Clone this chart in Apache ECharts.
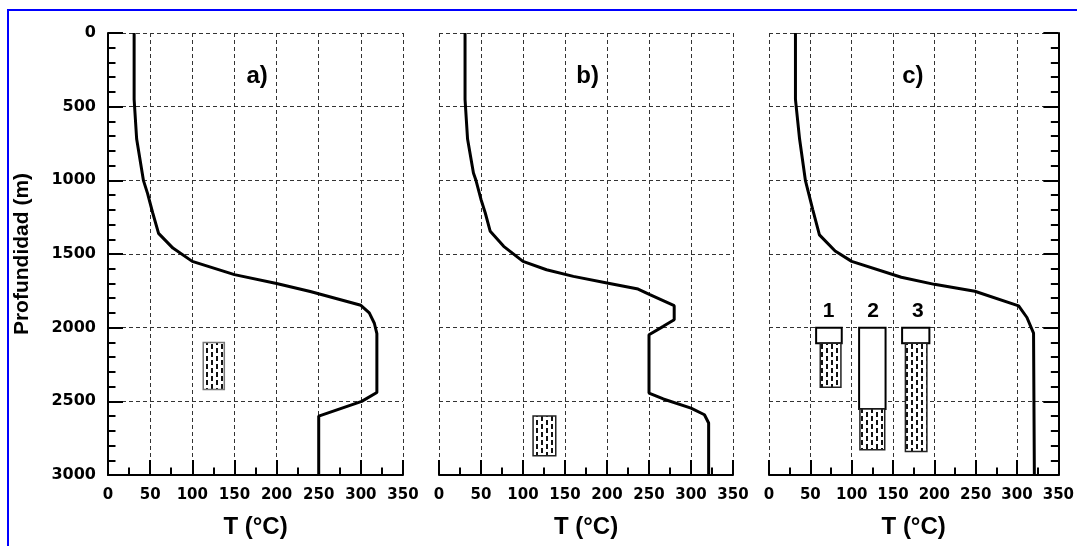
<!DOCTYPE html>
<html>
<head>
<meta charset="utf-8">
<script src="https://cdn.jsdelivr.net/npm/echarts@6/dist/echarts.min.js"></script>
<style>
html, body { margin: 0; padding: 0; background: #fff; }
#chart { width: 1077px; height: 546px; }
</style>
</head>
<body>
<div id="chart"></div>
<script>
// perfiles de temperatura: [T (°C), profundidad (m)]
var perfilA = [[31,0],[31,450],[34,720],[42,1000],[47,1090],[53,1220],[60,1360],[77,1460],[100,1550],[150,1640],[200,1700],[240,1755],[300,1848],[310,1900],[316,1970],[319,2040],[319,2440],[301,2500],[250,2600],[250,3000]];
var perfilB = [[31,0],[31,450],[34,720],[41,950],[44,1000],[50,1130],[55,1220],[61,1346],[77,1448],[100,1550],[128,1607],[160,1652],[200,1697],[237,1738],[251,1776],[280,1851],[280,1946],[267,1991],[250,2048],[250,2444],[267,2484],[300,2546],[316,2591],[321,2647],[321,3000]];
var perfilC = [[32,0],[32,450],[37,720],[44,1000],[53,1200],[61,1370],[80,1480],[100,1550],[160,1658],[200,1706],[249,1753],[302,1852],[312,1931],[320,2037],[321,3000]];

// zonas (T inicio, T fin, prof. inicio, prof. fin)
var zonaA = [[113,138,2100,2420]];
var zonaB = [[112,139,2600,2870]];
var tubosC = [[57,88,2000,2105],[109,141,2000,2552],[161,194,2000,2105]];
var zonasC = [[62,87,2105,2405],[110,140,2552,2828],[165,191,2105,2840]];

var panelLabels = ['a)', 'b)', 'c)'];
var panelLabelPos = [[177,292],[177,292],[174,295]];
var tuboLabels = ['1', '2', '3'];
var tuboLabelPos = [[72,1890],[126,1890],[180,1890]];

var tMin = 0, tMax = 350, tStep = 50;
var dMin = 0, dMax = 3000, dStep = 500;

// patron punteado (rayitas verticales alternadas)
var pat = document.createElement('canvas');
pat.width = 10; pat.height = 8;
var pc = pat.getContext('2d');
pc.fillStyle = '#fff'; pc.fillRect(0, 0, 10, 8);
pc.fillStyle = '#111';
pc.fillRect(1, 0, 2, 5);
pc.fillRect(6, 4, 2, 5);
pc.fillRect(6, -4, 2, 5);
var punteado = { image: pat, repeat: 'repeat' };

var myChart = echarts.init(document.getElementById('chart'));

var grids = [
  { left: 108, top: 33, width: 295, height: 442 },
  { left: 439, top: 33, width: 294, height: 442 },
  { left: 769, top: 33, width: 294, height: 442 }
];

var dashed = { show: true, lineStyle: { color: '#333', width: 1, type: [4, 3] } };

function xAxis(i) {
  return {
    gridIndex: i, type: 'value', position: 'bottom', min: tMin, max: tMax, interval: tStep,
    name: 'T (°C)', nameLocation: 'middle', nameGap: 40,
    nameTextStyle: { fontFamily: 'Liberation Sans', fontWeight: 'bold', fontSize: 24, color: '#000' },
    axisLine: { show: true, onZero: false, lineStyle: { color: '#000', width: 2 } },
    axisTick: { show: true, inside: true, length: 15, lineStyle: { color: '#000', width: 2 } },
    minorTick: { show: true, splitNumber: 2, length: 7.5, lineStyle: { color: '#000', width: 2 } },
    axisLabel: { margin: 13, fontFamily: 'DejaVu Sans', fontWeight: 'bold', fontSize: 15, color: '#000' },
    splitLine: dashed
  };
}

function yAxis(i) {
  var ax = {
    gridIndex: i, type: 'value', min: dMin, max: dMax, interval: dStep, inverse: true,
    axisLine: { show: false, onZero: false },
    axisTick: { show: false },
    axisLabel: { show: false },
    splitLine: dashed
  };
  var solid = {
    axisLine: { show: true, onZero: false, lineStyle: { color: '#000', width: 2 } },
    axisTick: { show: true, inside: true, length: 15, lineStyle: { color: '#000', width: 2 } },
    minorTick: { show: true, splitNumber: 5, length: 7.5, lineStyle: { color: '#000', width: 2 } }
  };
  if (i === 0) {
    Object.assign(ax, solid);
    ax.position = 'left';
    ax.name = 'Profundidad (m)';
    ax.nameLocation = 'middle';
    ax.nameGap = 75;
    ax.nameTextStyle = { fontFamily: 'Liberation Sans', fontWeight: 'bold', fontSize: 21, color: '#000' };
    ax.axisLabel = {
      show: true, margin: 12, fontFamily: 'DejaVu Sans', fontWeight: 'bold', fontSize: 16, color: '#000',
      formatter: function (v) { return String(v); }
    };
  }
  if (i === 2) {
    Object.assign(ax, solid);
    ax.position = 'right';
  }
  return ax;
}

function zonaRender(fill, stroke, lw) {
  return function (params, api) {
    var p0 = api.coord([api.value(0), api.value(2)]);
    var p1 = api.coord([api.value(1), api.value(3)]);
    return {
      type: 'rect',
      shape: { x: p0[0], y: p0[1], width: p1[0] - p0[0], height: p1[1] - p0[1] },
      style: { fill: fill, stroke: stroke, lineWidth: lw }
    };
  };
}

function zonaSeries(i, data, fill, stroke, lw) {
  return {
    type: 'custom', xAxisIndex: i, yAxisIndex: i, data: data,
    renderItem: zonaRender(fill, stroke, lw), z: 3
  };
}

function curva(i, data) {
  return {
    type: 'line', xAxisIndex: i, yAxisIndex: i, data: data,
    symbol: 'none', lineStyle: { color: '#000', width: 3 }, z: 4
  };
}

function textos(i, labels, pos, size) {
  return {
    type: 'scatter', xAxisIndex: i, yAxisIndex: i, symbolSize: 0, z: 5,
    itemStyle: { opacity: 1 },
    data: pos.map(function (p, k) { return { value: p, name: labels[k] }; }),
    label: {
      show: true, position: 'inside', formatter: '{b}',
      fontFamily: 'Liberation Sans', fontWeight: 'bold', fontSize: size, color: '#000'
    }
  };
}

var option = {
  animation: false,
  backgroundColor: '#fff',
  grid: grids,
  xAxis: [xAxis(0), xAxis(1), xAxis(2)],
  yAxis: [yAxis(0), yAxis(1), yAxis(2)],
  graphic: [{
    type: 'polyline', silent: true, z: 10,
    shape: { points: [[8, 546], [8, 10], [1077, 10]] },
    style: { stroke: '#0000ff', lineWidth: 2, fill: null }
  }],
  series: [
    curva(0, perfilA),
    curva(1, perfilB),
    curva(2, perfilC),
    zonaSeries(0, zonaA, punteado, '#777', 1.5),
    zonaSeries(1, zonaB, punteado, '#222', 1.5),
    zonaSeries(2, tubosC, '#fff', '#000', 2),
    zonaSeries(2, zonasC, punteado, '#222', 1.5),
    textos(0, [panelLabels[0]], [panelLabelPos[0]], 24),
    textos(1, [panelLabels[1]], [panelLabelPos[1]], 24),
    textos(2, [panelLabels[2]], [panelLabelPos[2]], 24),
    textos(2, tuboLabels, tuboLabelPos, 21)
  ]
};

myChart.setOption(option);
window.addEventListener('resize', function () { myChart.resize(); });
</script>
</body>
</html>
